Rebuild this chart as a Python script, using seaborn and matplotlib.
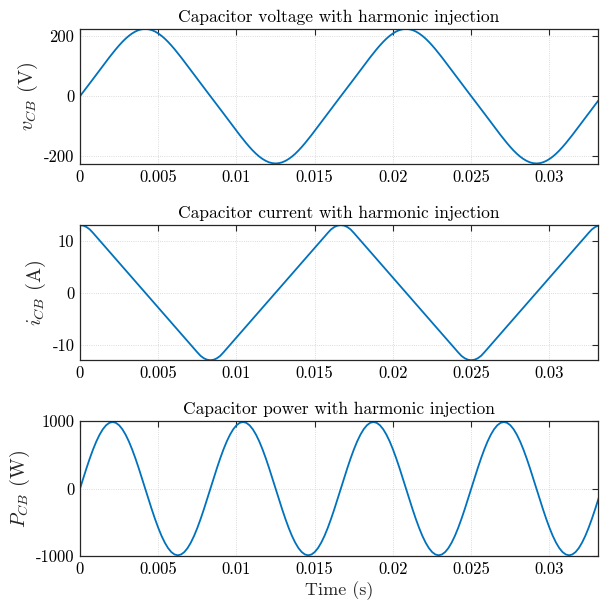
import numpy as np
import matplotlib
matplotlib.use("Agg")
import matplotlib.pyplot as plt
import seaborn as sns

# ---------------- data ----------------
sample_rate = 4800.0  # samples per second of the read-off curves
n_samples = 161

# capacitor voltage (V)
v_cb = [
    0, 14.2, 28.5, 42.8, 57.2, 71.7, 86.2, 100.7, 115.1, 129.3,
    143.1, 156.4, 169.0, 180.8, 191.5, 200.9, 208.8, 215.2, 219.9, 222.7,
    223.7, 222.7, 219.9, 215.2, 208.8, 200.9, 191.5, 180.8, 169.0, 156.4,
    143.1, 129.3, 115.1, 100.7, 86.2, 71.7, 57.2, 42.8, 28.5, 14.2,
    0, -14.2, -28.5, -42.8, -57.2, -71.7, -86.2, -100.7, -115.1, -129.3,
    -143.1, -156.4, -169.0, -180.8, -191.5, -200.9, -208.8, -215.2, -219.9, -222.7,
    -223.7, -222.7, -219.9, -215.2, -208.8, -200.9, -191.5, -180.8, -169.0, -156.4,
    -143.1, -129.3, -115.1, -100.7, -86.2, -71.7, -57.2, -42.8, -28.5, -14.2,
    0, 14.2, 28.5, 42.8, 57.2, 71.7, 86.2, 100.7, 115.1, 129.3,
    143.1, 156.4, 169.0, 180.8, 191.5, 200.9, 208.8, 215.2, 219.9, 222.7,
    223.7, 222.7, 219.9, 215.2, 208.8, 200.9, 191.5, 180.8, 169.0, 156.4,
    143.1, 129.3, 115.1, 100.7, 86.2, 71.7, 57.2, 42.8, 28.5, 14.2,
    0, -14.2, -28.5, -42.8, -57.2, -71.7, -86.2, -100.7, -115.1, -129.3,
    -143.1, -156.4, -169.0, -180.8, -191.5, -200.9, -208.8, -215.2, -219.9, -222.7,
    -223.7, -222.7, -219.9, -215.2, -208.8, -200.9, -191.5, -180.8, -169.0, -156.4,
    -143.1, -129.3, -115.1, -100.7, -86.2, -71.7, -57.2, -42.8, -28.5, -14.2,
    0,
]

# capacitor current (A)
i_cb = [
    13.0, 12.91, 12.63, 12.17, 11.50, 10.78, 10.06, 9.34, 8.62, 7.91,
    7.19, 6.47, 5.75, 5.03, 4.31, 3.59, 2.87, 2.16, 1.44, 0.72,
    0.0, -0.72, -1.44, -2.16, -2.87, -3.59, -4.31, -5.03, -5.75, -6.47,
    -7.19, -7.91, -8.62, -9.34, -10.06, -10.78, -11.50, -12.17, -12.63, -12.91,
    -13.0, -12.91, -12.63, -12.17, -11.50, -10.78, -10.06, -9.34, -8.62, -7.91,
    -7.19, -6.47, -5.75, -5.03, -4.31, -3.59, -2.87, -2.16, -1.44, -0.72,
    0.0, 0.72, 1.44, 2.16, 2.87, 3.59, 4.31, 5.03, 5.75, 6.47,
    7.19, 7.91, 8.62, 9.34, 10.06, 10.78, 11.50, 12.17, 12.63, 12.91,
    13.0, 12.91, 12.63, 12.17, 11.50, 10.78, 10.06, 9.34, 8.62, 7.91,
    7.19, 6.47, 5.75, 5.03, 4.31, 3.59, 2.87, 2.16, 1.44, 0.72,
    0.0, -0.72, -1.44, -2.16, -2.87, -3.59, -4.31, -5.03, -5.75, -6.47,
    -7.19, -7.91, -8.62, -9.34, -10.06, -10.78, -11.50, -12.17, -12.63, -12.91,
    -13.0, -12.91, -12.63, -12.17, -11.50, -10.78, -10.06, -9.34, -8.62, -7.91,
    -7.19, -6.47, -5.75, -5.03, -4.31, -3.59, -2.87, -2.16, -1.44, -0.72,
    0.0, 0.72, 1.44, 2.16, 2.87, 3.59, 4.31, 5.03, 5.75, 6.47,
    7.19, 7.91, 8.62, 9.34, 10.06, 10.78, 11.50, 12.17, 12.63, 12.91,
    13.0,
]

# capacitor power (W)
p_cb = [
    0, 154, 304, 447, 579, 697, 797, 878, 937, 973,
    985, 973, 937, 878, 797, 697, 579, 447, 304, 154,
    0, -154, -304, -447, -579, -697, -797, -878, -937, -973,
    -985, -973, -937, -878, -797, -697, -579, -447, -304, -154,
    0, 154, 304, 447, 579, 697, 797, 878, 937, 973,
    985, 973, 937, 878, 797, 697, 579, 447, 304, 154,
    0, -154, -304, -447, -579, -697, -797, -878, -937, -973,
    -985, -973, -937, -878, -797, -697, -579, -447, -304, -154,
    0, 154, 304, 447, 579, 697, 797, 878, 937, 973,
    985, 973, 937, 878, 797, 697, 579, 447, 304, 154,
    0, -154, -304, -447, -579, -697, -797, -878, -937, -973,
    -985, -973, -937, -878, -797, -697, -579, -447, -304, -154,
    0, 154, 304, 447, 579, 697, 797, 878, 937, 973,
    985, 973, 937, 878, 797, 697, 579, 447, 304, 154,
    0, -154, -304, -447, -579, -697, -797, -878, -937, -973,
    -985, -973, -937, -878, -797, -697, -579, -447, -304, -154,
    0,
]

time_s = np.arange(n_samples) / sample_rate

titles = ["Capacitor voltage with harmonic injection",
          "Capacitor current with harmonic injection",
          "Capacitor power with harmonic injection"]
ylabels = [r"$v_{CB}$ (V)", r"$i_{CB}$ (A)", r"$P_{CB}$ (W)"]
x_ticks = [0, 0.005, 0.01, 0.015, 0.02, 0.025, 0.03]
x_tick_labels = ["0", "0.005", "0.01", "0.015", "0.02", "0.025", "0.03"]
y_ticks = [[-200, 0, 200], [-10, 0, 10], [-1000, 0, 1000]]
y_tick_labels = [["-200", "0", "200"], ["-10", "0", "10"], ["-1000", "0", "1000"]]
y_limits = [(-225.5, 223.5), (-13.02, 13.08), (-1000, 1000)]
x_limits = (0, 0.0331)

# ---------------- style ----------------
sns.set_style("white")
plt.rcParams.update({
    "font.family": ["cmr10", "DejaVu Serif"],
    "mathtext.fontset": "cm",
    "axes.unicode_minus": False,
    "axes.formatter.use_mathtext": True,
})

line_color = "#0072BD"
axis_color = "#262626"

W, H = 600, 606
fig = plt.figure(figsize=(W / 100, H / 100), dpi=100)

# axes boxes in pixels: (left, top, right, bottom)
boxes = [(80, 29, 598, 164), (80, 224.7, 598, 360.3), (80, 421, 598, 556.3)]

series = [v_cb, i_cb, p_cb]
for k, (box, y) in enumerate(zip(boxes, series)):
    l, t, r, b = box
    ax = fig.add_axes([l / W, (H - b) / H, (r - l) / W, (b - t) / H])
    sns.lineplot(x=time_s, y=y, ax=ax, color=line_color, linewidth=1.3)
    ax.set_xlim(*x_limits)
    ax.set_ylim(*y_limits[k])
    ax.set_xticks(x_ticks)
    ax.set_xticklabels(x_tick_labels)
    ax.set_yticks(y_ticks[k])
    ax.set_yticklabels(y_tick_labels[k])
    ax.tick_params(direction="in", length=4, width=0.8, top=True, right=True,
                   labelsize=12, colors=axis_color, labelcolor="black", pad=4)
    ax.grid(True, linestyle=":", color="#cfcfcf", linewidth=0.6)
    for s in ax.spines.values():
        s.set_color(axis_color)
        s.set_linewidth(0.9)
    ax.set_title(titles[k], fontsize=12.5, pad=5, color="black")
    ax.set_ylabel(ylabels[k], fontsize=14.5, labelpad=3)
    ax.set_xlabel("")

ax.set_xlabel("Time (s)", fontsize=13, labelpad=3)

fig.savefig("out.png", dpi=100)
